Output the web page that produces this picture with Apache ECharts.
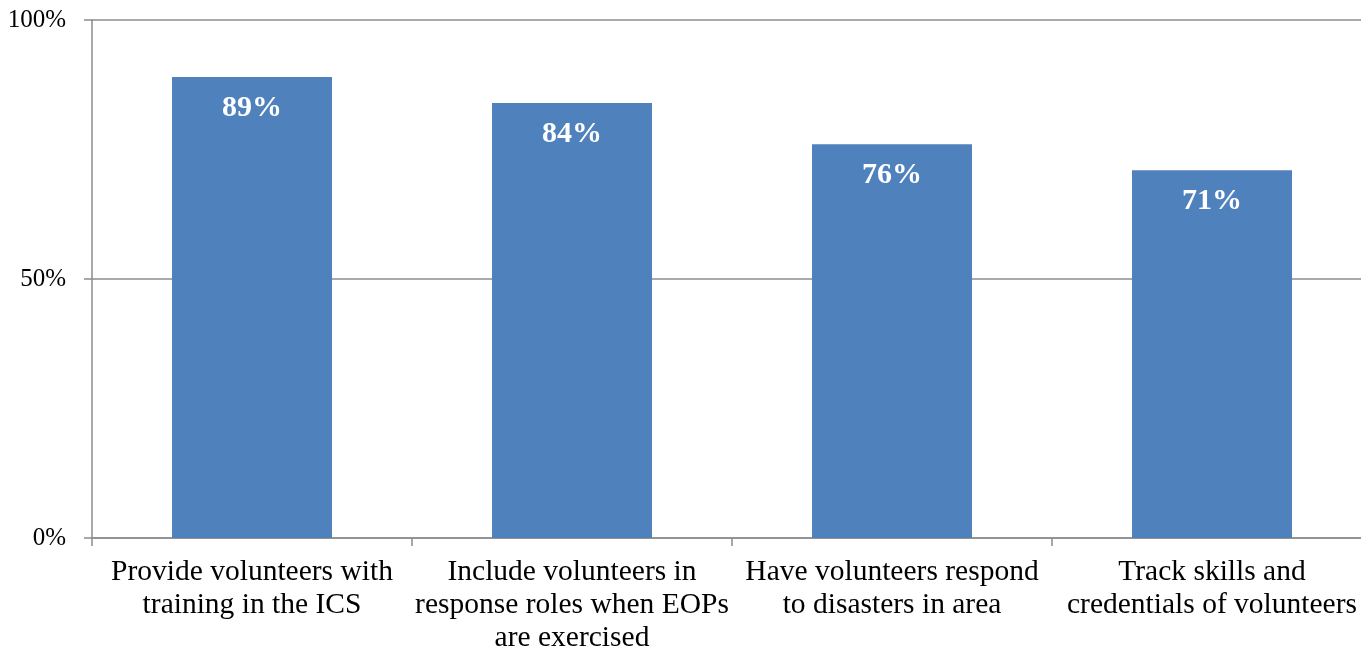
<!DOCTYPE html>
<html>
<head>
<meta charset="utf-8">
<script src="https://cdn.jsdelivr.net/npm/echarts@6/dist/echarts.min.js"></script>
<style>
  html, body { margin: 0; padding: 0; background: #fff; }
  #chart { width: 1361px; height: 650px; }
</style>
</head>
<body>
<div id="chart"></div>
<script>
var categories = [
  'Provide volunteers with\ntraining in the ICS',
  'Include volunteers in\nresponse roles when EOPs\nare exercised',
  'Have volunteers respond\nto disasters in area',
  'Track skills and\ncredentials of volunteers'
];
var shares = [89, 84, 76, 71];
var yTicks = [0, 50, 100];

var chart = echarts.init(document.getElementById('chart'));
var font = '"Liberation Serif", "Times New Roman", serif';

var option = {
  animation: false,
  // plot runs a little past the right edge, like the original
  grid: { left: 92, right: -11, top: 20, bottom: 112, outerBoundsMode: 'none' },
  xAxis: {
    type: 'category',
    data: categories,
    boundaryGap: true,
    axisLine: { lineStyle: { color: '#8c8c8c', width: 1.5 } },
    axisTick: { show: true, length: 8, alignWithLabel: false, lineStyle: { color: '#8c8c8c', width: 1.5 } },
    axisLabel: {
      color: '#000',
      fontFamily: font,
      fontSize: 29.5,
      lineHeight: 33,
      margin: 18,
      interval: 0
    }
  },
  yAxis: {
    type: 'value',
    min: yTicks[0],
    max: yTicks[yTicks.length - 1],
    interval: 50,
    axisLine: { show: true, lineStyle: { color: '#8c8c8c', width: 1.5 } },
    axisTick: { show: true, length: 8, lineStyle: { color: '#8c8c8c', width: 1.5 } },
    splitLine: { show: true, lineStyle: { color: '#8c8c8c', width: 1.5 } },
    axisLabel: {
      color: '#000',
      fontFamily: font,
      fontSize: 25,
      margin: 26,
      formatter: '{value}%'
    }
  },
  series: [
    {
      type: 'bar',
      data: shares,
      barWidth: '50%',
      itemStyle: { color: '#4F81BD' },
      label: {
        show: true,
        position: 'insideTop',
        distance: 16,
        color: '#fff',
        fontFamily: font,
        fontWeight: 'bold',
        fontSize: 30,
        formatter: '{c}%'
      }
    }
  ]
};

chart.setOption(option);
</script>
</body>
</html>
